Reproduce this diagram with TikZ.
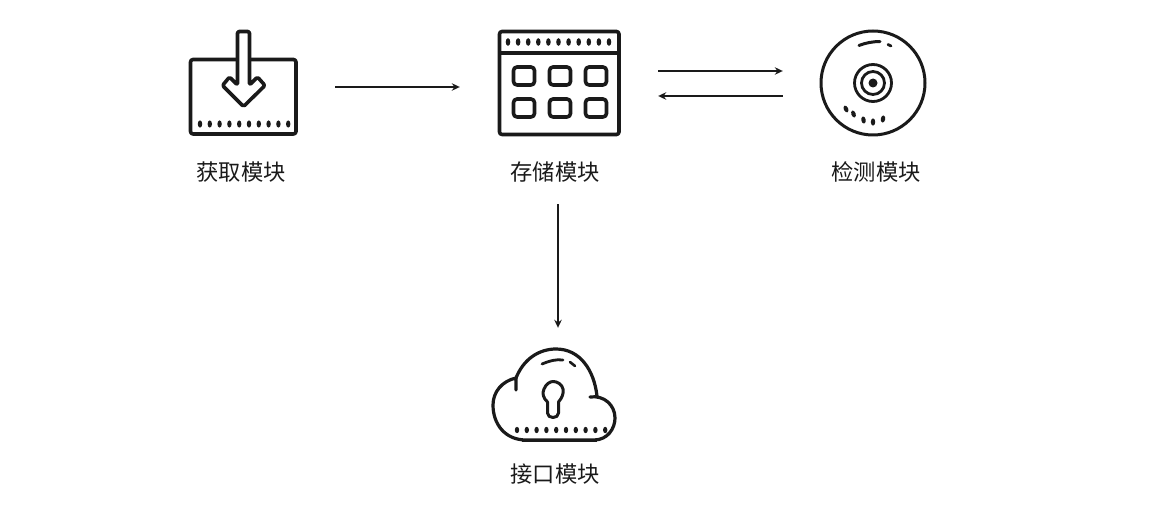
\documentclass[tikz,border=0pt]{standalone}
\usepackage{fontspec}
\newfontfamily\cjk{Noto Sans CJK SC}
\usetikzlibrary{arrows.meta,calc}
\tikzset{
  icon/.style={draw=iconink,line width=3.6pt,rounded corners=2.5pt,line join=round},
  thin icon/.style={draw=iconink,line width=2.8pt,line join=round,line cap=round},
  anchorbox/.style={draw=none,fill=none,inner sep=0pt},
  label/.style={font=\cjk\fontsize{22.3}{22}\selectfont,text=iconink,inner sep=0pt},
  conn/.style={draw=iconink,line width=2pt,-{Stealth[length=8pt,width=7.5pt]}},
  pip/.style={fill=iconink,draw=none}
}
\definecolor{iconink}{HTML}{1A1A1A}
\begin{document}
\begin{tikzpicture}[x=1pt,y=-1pt]
\useasboundingbox (0,0) rectangle (1157,513);
% layout anchors for the icons
\node[anchorbox,minimum width=184pt,minimum height=110pt] (acq) at (243,87) {};
\node[anchorbox,minimum width=198pt,minimum height=110pt] (store) at (559,83.5) {};
\node[anchorbox,minimum width=180pt,minimum height=110pt] (detect) at (873,83.5) {};
\node[anchorbox,minimum width=130pt,minimum height=114pt] (iface) at (554,385) {};
% labels
\node[label] (acqlabel) at (241,172) {获取模块};
\node[label,minimum height=64pt] (storelabel) at (555,172) {存储模块};
\node[label] (detectlabel) at (876,172) {检测模块};
\node[label] (ifacelabel) at (555,474) {接口模块};
% acquisition icon
\draw[icon] (237.5,59.5) -- (190.5,59.5) -- (190.5,134) -- (296,134) -- (296,59.5) -- (249.5,59.5);
\draw[icon,fill=white,rounded corners=1.5pt] (237.5,31.5) -- (249.5,31.5) -- (249.5,85) -- (257.5,77) -- (265,85.5) -- (243.5,106.5) -- (222.5,85.5) -- (229.5,77) -- (237.5,85) -- cycle;
\foreach \i in {0,...,9} \fill[pip] ({200+\i*9.8},124) ellipse (2.2pt and 3.6pt);
% storage icon
\draw[icon] (499.5,31.5) rectangle (619,134.5);
\draw[icon,line width=4pt] (499.5,53) -- (619,53);
\foreach \i in {0,...,10} \fill[pip] ({508+\i*10.1},42) ellipse (2.3pt and 3.8pt);
\foreach \cx in {524,560,596} \foreach \cy in {76,108}
  \draw[icon,rounded corners=3.5pt] ({\cx-10.5},{\cy-9}) rectangle ({\cx+10.5},{\cy+9});
% detection icon
\draw[thin icon,line width=3pt] (873,83) circle (52pt);
\draw[thin icon] (873,83) circle (18.5pt);
\draw[thin icon] (873,83) circle (11.5pt);
\fill[pip] (873,83) circle (4.5pt);
\draw[thin icon,line width=3pt] (859,45.5) .. controls (865,43) and (873,41.5) .. (880,41.5);
\draw[thin icon] (888,44.5) -- (891,46);
\foreach \a/\b/\r in {846/109/25,853.5/114/20,863.5/120/10,873/122/0,883/119/-10}
  \fill[pip,rotate around={\r:(\a,\b)}] (\a,\b) ellipse (2.2pt and 3.6pt);
% interface icon
\draw[thin icon,line width=3.2pt]
  (516,390) -- (516,378)
  .. controls (502,381) and (493,392) .. (493,405)
  .. controls (493,424) and (505,440) .. (526,440)
  -- (594,440)
  .. controls (608,440) and (615,428) .. (615,418)
  .. controls (615,405) and (604,395) .. (590,397);
\draw[thin icon,line width=3.2pt]
  (516,378) .. controls (524,358) and (540,349) .. (556,349)
  .. controls (580,349) and (594,370) .. (597,396);
\draw[thin icon,line width=2.8pt] (542,364) .. controls (549,361) and (556,359) .. (563,360);
\draw[thin icon,line width=2.6pt] (570,362) -- (575,366);
\draw[thin icon,line width=3pt]
  (547.5,402) .. controls (543,398) and (542,393) .. (544,389)
  .. controls (546,384) and (550,381.5) .. (553,381.5)
  .. controls (557,381.5) and (562,384) .. (563,389)
  .. controls (564,393) and (562,398) .. (558.5,402)
  -- (558.5,413) .. controls (558.5,419) and (547.5,419) .. (547.5,413) -- cycle;
\foreach \i in {0,...,9} \fill[pip] ({517+\i*9.8},430) ellipse (2.2pt and 3.2pt);
\draw[draw=iconink,line width=2.6pt] (522,440.5) -- (597,440.5);
% connectors
\draw[conn] (acq.east) -- (store.west |- acq.east);
\draw[conn] ([yshift=12.5pt]store.east) -- ([yshift=12.5pt]detect.west);
\draw[conn] ([yshift=-12.5pt]detect.west) -- ([yshift=-12.5pt]store.east);
\draw[conn] (storelabel.south -| 558,0) -- (iface.north -| 558,0);
\end{tikzpicture}
\end{document}
